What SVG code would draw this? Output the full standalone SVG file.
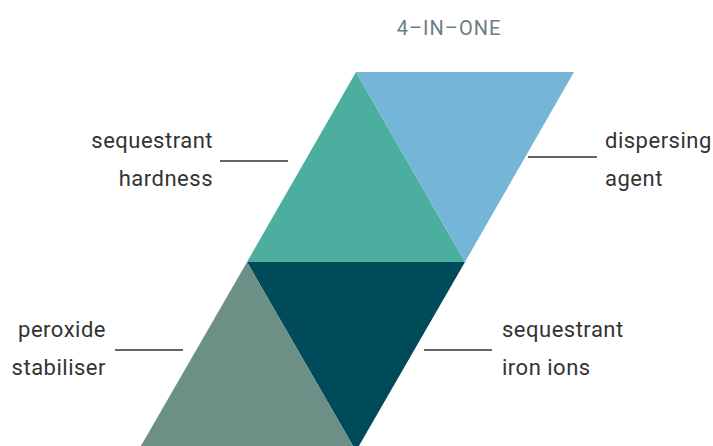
<svg xmlns="http://www.w3.org/2000/svg" width="713" height="446" viewBox="0 0 713 446">
<style>
.lbl{font-family:Roboto,"Liberation Sans",sans-serif;font-size:22px;fill:#333;letter-spacing:0.5px}
.r{text-anchor:end}
.ttl{font-family:Roboto,"Liberation Sans",sans-serif;font-size:20px;fill:#6b7e84;text-anchor:middle;letter-spacing:1px}
.ln{stroke:#333;stroke-width:1.3;fill:none}
</style>
<rect width="713" height="446" fill="#fff"/>
<text class="ttl" x="449" y="35">4–IN–ONE</text>
<g id="hardness">
<polygon points="356,72 247,262 465,262" fill="#4cae9f"/>
<text class="lbl r" x="213" y="148">sequestrant</text>
<text class="lbl r" x="213" y="186">hardness</text>
</g>
<g id="dispersing">
<polygon points="356,72 574,72 465,262" fill="#74b6d7"/>
<text class="lbl" x="605" y="148">dispersing</text>
<text class="lbl" x="605" y="186">agent</text>
</g>
<g id="iron">
<polygon points="247,262 465,262 356,451" fill="#004b5a"/>
<text class="lbl" x="502" y="337">sequestrant</text>
<text class="lbl" x="502" y="375">iron ions</text>
</g>
<g id="peroxide">
<polygon points="247,262 356,451 138,451" fill="#6c8f86"/>
<text class="lbl r" x="106" y="337">peroxide</text>
<text class="lbl r" x="106" y="375">stabiliser</text>
</g>
<g id="connectors">
<line class="ln" x1="220" y1="161" x2="288" y2="161"/>
<line class="ln" x1="528" y1="157" x2="597" y2="157"/>
<line class="ln" x1="115" y1="350" x2="183" y2="350"/>
<line class="ln" x1="424" y1="350" x2="492" y2="350"/>
</g>
</svg>
